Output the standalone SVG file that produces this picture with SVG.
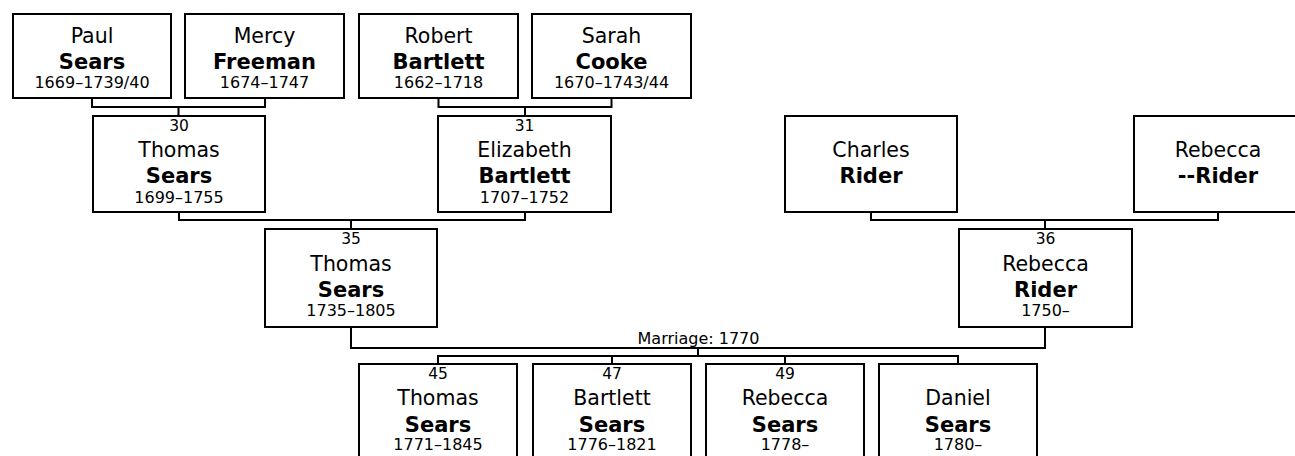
<svg xmlns="http://www.w3.org/2000/svg" width="1295" height="456" viewBox="0 0 1295 456">
<style>
rect.box{fill:#fff;stroke:#000;stroke-width:2}
text{font-family:"DejaVu Sans",Verdana,sans-serif;text-anchor:middle;fill:#000}
.n{font-size:15.5px}
.g{font-size:20.5px}
.s{font-size:21px;font-weight:bold}
.d{font-size:16px}
.m{font-size:16px}
#connectors path{fill:none;stroke:#000;stroke-width:2}
</style>
<rect width="1295" height="456" fill="#fff"/>
<g id="connectors">
<path d="M92,99 V107 H265 V99 M178.5,107 V115"/>
<path d="M438.5,99 V107 H611.5 V99 M525,107 V115"/>
<path d="M871,213 V220 H1218 V213 M1045,220 V228"/>
<path d="M179,213 V220 H525 V213 M351,220 V228"/>
<path d="M351,328 V348 H1045 V328"/>
<path d="M698,348 V356 M438,363 V356 H958 V363 M612,356 V363 M785,356 V363"/>
</g>
<text class="m" x="698.5" y="343.5">Marriage: 1770</text>
<g id="paul"><rect class="box" x="13" y="14" width="158" height="84"/>
<text class="g" x="92" y="43">Paul</text><text class="s" x="92" y="68.5">Sears</text><text class="d" x="92" y="87.5">1669–1739/40</text></g>
<g id="mercy"><rect class="box" x="185" y="14" width="159" height="84"/>
<text class="g" x="264.5" y="43">Mercy</text><text class="s" x="264.5" y="68.5">Freeman</text><text class="d" x="264.5" y="87.5">1674–1747</text></g>
<g id="robert"><rect class="box" x="359" y="14" width="159" height="84"/>
<text class="g" x="438.5" y="43">Robert</text><text class="s" x="438.5" y="68.5">Bartlett</text><text class="d" x="438.5" y="87.5">1662–1718</text></g>
<g id="sarah"><rect class="box" x="532" y="14" width="159" height="84"/>
<text class="g" x="611.5" y="43">Sarah</text><text class="s" x="611.5" y="68.5">Cooke</text><text class="d" x="611.5" y="87.5">1670–1743/44</text></g>
<g id="p30"><rect class="box" x="93" y="116" width="172" height="96"/>
<text class="n" x="179" y="130.5">30</text><text class="g" x="179" y="157">Thomas</text><text class="s" x="179" y="183">Sears</text><text class="d" x="179" y="203">1699–1755</text></g>
<g id="p31"><rect class="box" x="438" y="116" width="173" height="96"/>
<text class="n" x="524.5" y="130.5">31</text><text class="g" x="524.5" y="157">Elizabeth</text><text class="s" x="524.5" y="183">Bartlett</text><text class="d" x="524.5" y="203">1707–1752</text></g>
<g id="charles"><rect class="box" x="785" y="116" width="172" height="96"/>
<text class="g" x="871" y="157">Charles</text><text class="s" x="871" y="183">Rider</text></g>
<g id="rebeccaM"><rect class="box" x="1134" y="116" width="168" height="96"/>
<text class="g" x="1218" y="157">Rebecca</text><text class="s" x="1218" y="183">--Rider</text></g>
<g id="p35"><rect class="box" x="265" y="229" width="172" height="98"/>
<text class="n" x="351" y="244">35</text><text class="g" x="351" y="270.5">Thomas</text><text class="s" x="351" y="296.5">Sears</text><text class="d" x="351" y="316">1735–1805</text></g>
<g id="p36"><rect class="box" x="959" y="229" width="173" height="98"/>
<text class="n" x="1045.5" y="244">36</text><text class="g" x="1045.5" y="270.5">Rebecca</text><text class="s" x="1045.5" y="296.5">Rider</text><text class="d" x="1045.5" y="316">1750–</text></g>
<g id="p45"><rect class="box" x="359" y="364" width="158" height="110"/>
<text class="n" x="438" y="379">45</text><text class="g" x="438" y="405">Thomas</text><text class="s" x="438" y="431.5">Sears</text><text class="d" x="438" y="450">1771–1845</text></g>
<g id="p47"><rect class="box" x="533" y="364" width="158" height="110"/>
<text class="n" x="612" y="379">47</text><text class="g" x="612" y="405">Bartlett</text><text class="s" x="612" y="431.5">Sears</text><text class="d" x="612" y="450">1776–1821</text></g>
<g id="p49"><rect class="box" x="706" y="364" width="158" height="110"/>
<text class="n" x="785" y="379">49</text><text class="g" x="785" y="405">Rebecca</text><text class="s" x="785" y="431.5">Sears</text><text class="d" x="785" y="450">1778–</text></g>
<g id="daniel"><rect class="box" x="879" y="364" width="158" height="110"/>
<text class="g" x="958" y="405">Daniel</text><text class="s" x="958" y="431.5">Sears</text><text class="d" x="958" y="450">1780–</text></g>
</svg>
